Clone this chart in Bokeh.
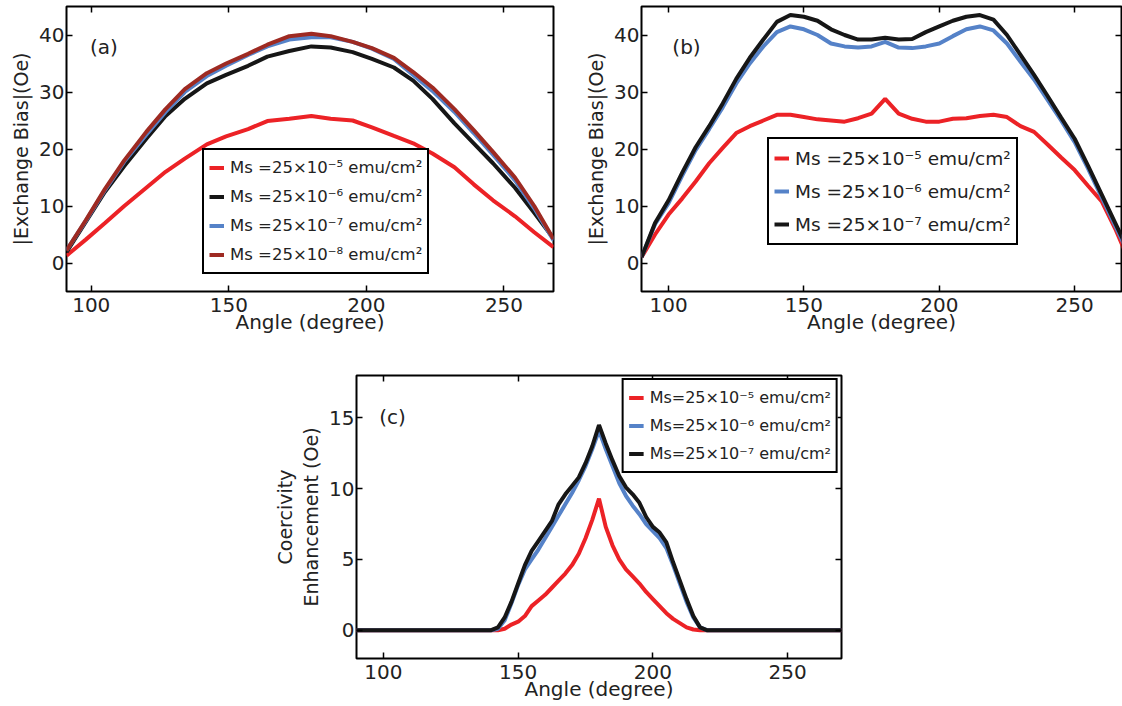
from bokeh.plotting import figure
from bokeh.models import Range1d, LinearAxis, FixedTicker, Legend, LegendItem, Label, Spacer
from bokeh.layouts import column, row
from bokeh.embed import file_html
from bokeh.resources import INLINE

# ---------------- data ----------------
# panel (a): |Exchange bias| (Oe) vs angle (degree)
angle_a = [91, 98, 105, 112, 120, 127, 134, 142, 149, 157, 164, 172, 180,
           187, 195, 202, 210, 217, 224, 232, 239, 246, 254, 261, 268]
eb_a_m5 = [1.3, 4.1, 7.0, 10.0, 13.2, 16.0, 18.3, 20.8, 22.2, 23.5, 24.9, 25.3, 25.8,
           25.3, 25.0, 23.8, 22.3, 21.0, 19.2, 16.8, 13.8, 11.0, 8.2, 5.4, 2.8]
eb_a_m6 = [1.9, 7.2, 12.5, 17.0, 21.8, 25.8, 28.8, 31.5, 33.0, 34.6, 36.2, 37.2, 38.0,
           37.8, 37.0, 35.8, 34.3, 32.0, 28.8, 24.5, 21.0, 17.5, 13.2, 8.8, 4.3]
eb_a_m7 = [2.2, 7.4, 12.8, 17.8, 22.5, 26.5, 30.0, 32.8, 34.6, 36.5, 38.0, 39.2, 39.6,
           39.6, 38.8, 37.6, 35.8, 33.0, 30.2, 26.5, 22.8, 19.0, 14.5, 9.6, 4.0]
eb_a_m8 = [2.2, 7.5, 13.0, 18.0, 23.0, 27.0, 30.5, 33.3, 35.0, 36.7, 38.3, 39.8, 40.2,
           39.8, 38.8, 37.7, 36.0, 33.5, 30.8, 27.0, 23.3, 19.5, 15.0, 10.0, 4.2]

# panel (b)
angle_b = [90, 95, 100, 105, 110, 115, 120, 125, 130, 135, 140, 145, 150, 155, 160,
           165, 170, 175, 180, 185, 190, 195, 200, 205, 210, 215, 220, 225, 230, 235,
           240, 245, 250, 255, 260, 265, 270]
eb_b_m5 = [1.0, 5.0, 8.5, 11.3, 14.3, 17.5, 20.2, 22.8, 24.0, 25.0, 26.0, 26.0, 25.6,
           25.2, 25.0, 24.8, 25.4, 26.2, 28.8, 26.2, 25.3, 24.8, 24.8, 25.3, 25.4, 25.8,
           26.0, 25.6, 24.0, 23.0, 20.8, 18.5, 16.3, 13.5, 10.8, 6.0, 0.5]
eb_b_m6 = [1.0, 6.8, 10.5, 15.3, 19.8, 23.5, 27.3, 31.5, 35.0, 38.0, 40.5, 41.5, 41.0,
           40.0, 38.5, 38.0, 37.8, 38.0, 38.8, 37.8, 37.7, 38.0, 38.5, 39.8, 41.0, 41.5,
           40.8, 38.5, 35.3, 32.2, 28.6, 25.0, 21.2, 16.5, 11.5, 6.5, 1.5]
eb_b_m7 = [1.0, 7.0, 11.0, 15.8, 20.3, 24.0, 28.0, 32.3, 36.0, 39.2, 42.3, 43.5, 43.2,
           42.5, 41.0, 40.0, 39.2, 39.2, 39.5, 39.2, 39.3, 40.5, 41.5, 42.5, 43.2, 43.5,
           42.7, 40.0, 36.5, 33.0, 29.3, 25.5, 21.8, 17.0, 12.0, 7.0, 2.0]

# panel (c): coercivity enhancement (Oe)
angle_c = [90, 140, 142.5, 145, 147.5, 150, 152.5, 155, 157.5, 160, 162.5, 165, 167.5,
           170, 172.5, 175, 177.5, 180, 182.5, 185, 187.5, 190, 192.5, 195, 197.5, 200,
           202.5, 205, 207.5, 210, 212.5, 215, 217.5, 220, 270]
hc_c_m5 = [0, 0, 0, 0.1, 0.4, 0.6, 1.0, 1.7, 2.1, 2.5, 3.0, 3.5, 4.0,
           4.6, 5.4, 6.5, 7.8, 9.3, 7.3, 6.0, 5.0, 4.3, 3.8, 3.3, 2.7, 2.2,
           1.7, 1.2, 0.8, 0.5, 0.2, 0.05, 0, 0, 0]
hc_c_m6 = [0, 0, 0.1, 0.7, 1.9, 3.2, 4.3, 5.0, 5.7, 6.5, 7.3, 8.1, 8.9,
           9.7, 10.6, 11.6, 12.8, 14.1, 12.8, 11.6, 10.4, 9.5, 8.8, 8.2, 7.5, 7.0,
           6.5, 5.8, 4.6, 3.3, 2.0, 0.9, 0.2, 0, 0]
hc_c_m7 = [0, 0, 0.2, 0.9, 2.0, 3.3, 4.6, 5.6, 6.3, 7.0, 7.7, 8.9, 9.6,
           10.2, 10.8, 11.8, 13.0, 14.5, 13.2, 12.0, 10.9, 10.1, 9.6, 9.0, 8.0, 7.3,
           6.9, 6.2, 4.8, 3.5, 2.2, 1.0, 0.2, 0, 0]

x_ticks = [100, 150, 200, 250]
y_ticks_ab = [0, 10, 20, 30, 40]
y_ticks_c = [0, 5, 10, 15]

labels_ab = ["Ms =25×10⁻⁵ emu/cm²", "Ms =25×10⁻⁶ emu/cm²",
             "Ms =25×10⁻⁷ emu/cm²", "Ms =25×10⁻⁸ emu/cm²"]
labels_c = ["Ms=25×10⁻⁵ emu/cm²", "Ms=25×10⁻⁶ emu/cm²", "Ms=25×10⁻⁷ emu/cm²"]

# ---------------- style ----------------
FONT = "DejaVu Sans"
TXT = "#222222"
RED = "#ec2226"
BLUE = "#5582c8"
BLACK = "#161616"
BROWN = "#9e2a22"
LW = 4


def style_axis(ax, ticks, standoff):
    ax.ticker = FixedTicker(ticks=ticks)
    ax.major_tick_in = 6
    ax.major_tick_out = 0
    ax.major_tick_line_color = "black"
    ax.major_tick_line_width = 1.5
    ax.minor_tick_line_color = None
    ax.axis_line_color = None
    ax.major_label_text_font = FONT
    ax.major_label_text_font_size = "20px"
    ax.major_label_text_color = TXT
    ax.major_label_standoff = standoff
    ax.axis_label_text_font = FONT
    ax.axis_label_text_font_size = "20px"
    ax.axis_label_text_font_style = "normal"
    ax.axis_label_text_color = TXT


def blank_axis(ticks):
    return LinearAxis(ticker=FixedTicker(ticks=ticks), major_tick_in=6, major_tick_out=0,
                      major_tick_line_width=1.5, minor_tick_line_color=None,
                      axis_line_color=None, major_label_text_font_size="1px",
                      major_label_text_color=None, major_label_standoff=0)


def make_fig(width, height, xr, yr, yticks, mbl, mbr, mbt, mbb, xlabel, ylabel):
    p = figure(width=width, height=height, x_range=Range1d(*xr), y_range=Range1d(*yr),
               output_backend="svg", toolbar_location=None,
               min_border_left=mbl, min_border_right=mbr,
               min_border_top=mbt, min_border_bottom=mbb)
    p.xgrid.visible = False
    p.ygrid.visible = False
    p.outline_line_color = "black"
    p.outline_line_width = 2
    p.outline_line_alpha = 1
    p.border_fill_color = "white"
    p.background_fill_color = "white"
    style_axis(p.xaxis[0], x_ticks, 6)
    style_axis(p.yaxis[0], yticks, 2)
    p.xaxis[0].axis_label = xlabel
    p.xaxis[0].axis_label_standoff = -5
    p.yaxis[0].axis_label = ylabel
    p.yaxis[0].axis_label_standoff = 4
    p.yaxis[0].axis_label_text_font_size = "19px"
    p.add_layout(blank_axis(x_ticks), "above")
    p.add_layout(blank_axis(yticks), "right")
    return p


def add_legend(p, items, loc, size, rowh, spacing):
    leg = Legend(items=items, location=loc)
    leg.border_line_color = "black"
    leg.border_line_width = 2
    leg.border_line_alpha = 1
    leg.background_fill_color = "white"
    leg.background_fill_alpha = 1
    leg.padding = 5
    leg.spacing = spacing
    leg.margin = 3
    leg.glyph_width = 15
    leg.glyph_height = rowh
    leg.label_height = rowh
    leg.label_standoff = 6
    leg.label_text_font = FONT
    leg.label_text_font_size = size
    leg.label_text_color = TXT
    p.add_layout(leg)


def tag(p, x, y, text):
    p.add_layout(Label(x=x, y=y, text=text, text_font=FONT, text_font_size="20px",
                       text_color=TXT, text_align="left", text_baseline="middle"))


# ---------------- panel (a) ----------------
pa = make_fig(575, 341, (91, 268), (-5, 45), y_ticks_ab, 66, 22, 6, 50,
              "Angle (degree)", "|Exchange Bias|(Oe)")
ra1 = pa.line(angle_a, eb_a_m5, line_color=RED, line_width=LW)
ra2 = pa.line(angle_a, eb_a_m6, line_color=BLACK, line_width=LW)
ra3 = pa.line(angle_a, eb_a_m7, line_color=BLUE, line_width=LW)
ra4 = pa.line(angle_a, eb_a_m8, line_color=BROWN, line_width=LW)
add_legend(pa, [LegendItem(label=labels_ab[0], renderers=[ra1]),
                LegendItem(label=labels_ab[1], renderers=[ra2]),
                LegendItem(label=labels_ab[2], renderers=[ra3]),
                LegendItem(label=labels_ab[3], renderers=[ra4])],
           (136, 17), "16.5px", 25, 4)
tag(pa, 99.5, 37.9, "(a)")

# ---------------- panel (b) ----------------
pb = make_fig(547, 341, (90, 267.3), (-5, 45), y_ticks_ab, 66, 1, 6, 50,
              "Angle (degree)", "|Exchange Bias|(Oe)")
rb1 = pb.line(angle_b, eb_b_m5, line_color=RED, line_width=LW)
rb2 = pb.line(angle_b, eb_b_m6, line_color=BLUE, line_width=LW)
rb3 = pb.line(angle_b, eb_b_m7, line_color=BLACK, line_width=LW)
add_legend(pb, [LegendItem(label=labels_ab[0], renderers=[rb1]),
                LegendItem(label=labels_ab[1], renderers=[rb2]),
                LegendItem(label=labels_ab[2], renderers=[rb3])],
           (126, 46), "18.5px", 28, 5)
tag(pb, 101.4, 37.9, "(b)")

# ---------------- panel (c) ----------------
pc = make_fig(579, 362, (90, 270), (-2, 18), y_ticks_c, 83, 8, 34, 44,
              "Angle (degree)", "Coercivity\nEnhancement (Oe)")
rc1 = pc.line(angle_c, hc_c_m5, line_color=RED, line_width=LW)
rc2 = pc.line(angle_c, hc_c_m6, line_color=BLUE, line_width=LW)
rc3 = pc.line(angle_c, hc_c_m7, line_color=BLACK, line_width=LW)
add_legend(pc, [LegendItem(label=labels_c[0], renderers=[rc1]),
                LegendItem(label=labels_c[1], renderers=[rc2]),
                LegendItem(label=labels_c[2], renderers=[rc3])],
           "top_right", "16px", 25, 3)
tag(pc, 98.4, 15.1, "(c)")

layout = column(row(pa, pb), row(Spacer(width=270, height=362), pc))

with open("out.html", "w") as f:
    f.write(file_html(layout, INLINE))
